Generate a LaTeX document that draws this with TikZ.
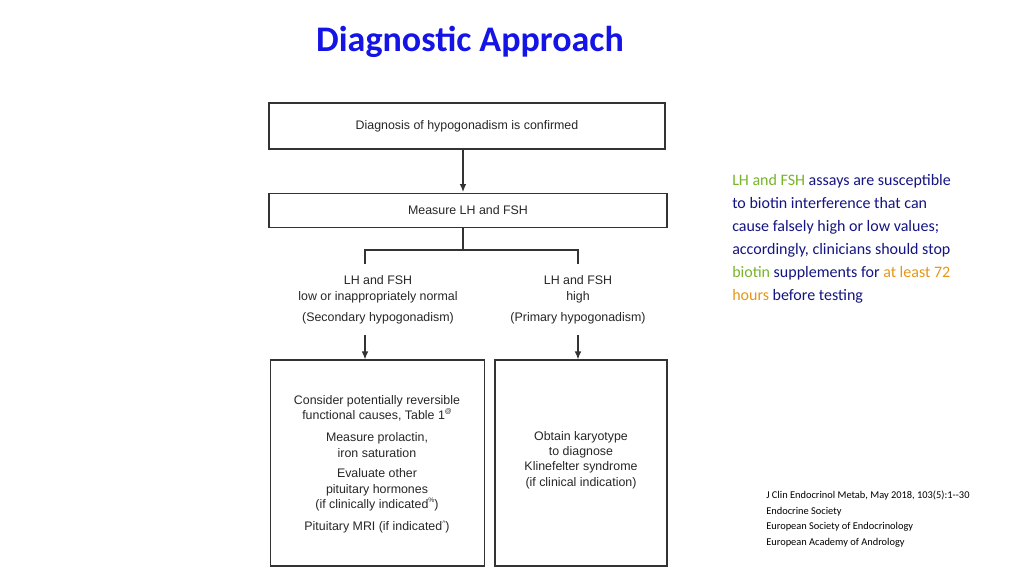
\documentclass[tikz,border=0pt]{standalone}
\usepackage{fontspec}
\usetikzlibrary{arrows.meta}
\setmainfont{Liberation Sans}
\newfontfamily\carl{Carlito}
\definecolor{tblue}{RGB}{20,20,230}
\definecolor{nblue}{RGB}{20,20,130}
\definecolor{ngreen}{RGB}{120,180,40}
\definecolor{norange}{RGB}{230,150,20}
\newcommand{\mysup}[1]{\raisebox{0.9ex}{\fontsize{5}{5}\selectfont #1}}
\begin{document}
\begin{tikzpicture}[x=0.75pt,y=-0.75pt,
  box/.style={draw=black!80,line width=0.9pt,inner sep=0pt},
  lbl/.style={font=\fontsize{9.3}{12}\selectfont,align=center,text=black!85},
  arr/.style={draw=black!80,line width=0.9pt,-{Latex[length=6pt,width=5pt]}},
  ln/.style={draw=black!80,line width=0.9pt}]
\useasboundingbox (0,0) rectangle (1024,576);
\node[font=\carl\bfseries\fontsize{27}{30}\selectfont,text=tblue] (title) at (470,42) {Diagnostic Approach};
\node[box,minimum width=297pt,minimum height=34.5pt] (b1) at (467,126) {};
\node[lbl] at (b1) {Diagnosis of hypogonadism is confirmed};
\node[box,minimum width=298.5pt,minimum height=26pt] (b2) at (468,210.5) {};
\node[lbl] at (b2) {Measure LH and FSH};
\coordinate (j) at (463,250);
\coordinate (jl) at (365,250);
\coordinate (jr) at (578,250);
\coordinate (tl) at (365,264);
\coordinate (tr) at (578,264);
\draw[arr] (463,149) -- (463,192);
\draw[ln] (463,228) -- (j);
\draw[ln] (tl) -- (jl) -- (jr) -- (tr);
\node[lbl] (l1) at (378,289) {LH and FSH\\low or inappropriately normal};
\node[lbl] (l2) at (378,318) {(Secondary hypogonadism)};
\node[lbl] (r1) at (578,289) {LH and FSH\\high};
\node[lbl] (r2) at (578,318) {(Primary hypogonadism)};
\node[box,minimum width=161pt,minimum height=154.5pt] (b3) at (377.5,463) {};
\node[box,minimum width=129pt,minimum height=154.5pt] (b4) at (581,463) {};
\coordinate (al) at (365,335);
\coordinate (ar) at (578,335);
\draw[arr] (al) -- (b3.north -| al);
\draw[arr] (ar) -- (b4.north -| ar);
\node[lbl,font=\fontsize{9.3}{11.5}\selectfont] at (377,408) {Consider potentially reversible\\functional causes, Table 1\mysup{@}};
\node[lbl,font=\fontsize{9.3}{11.5}\selectfont] at (377,445) {Measure prolactin,\\iron saturation};
\node[lbl,font=\fontsize{9.3}{11.5}\selectfont] at (377,490) {Evaluate other\\pituitary hormones\\(if clinically indicated\mysup{\%})};
\node[lbl,font=\fontsize{9.3}{11.5}\selectfont] at (377,527) {Pituitary MRI (if indicated\mysup{\textasciicircum})};
\node[lbl,font=\fontsize{9.3}{11.5}\selectfont] at (581,460) {Obtain karyotype\\to diagnose\\Klinefelter syndrome\\(if clinical indication)};
\node[anchor=north west,align=left,font=\carl\fontsize{12}{17.3}\selectfont,text=nblue,inner sep=0pt] (note) at (732,174) {\textcolor{ngreen}{LH and FSH} assays are susceptible\\to biotin interference that can\\cause falsely high or low values;\\accordingly, clinicians should stop\\\textcolor{ngreen}{biotin} supplements for \textcolor{norange}{at least 72}\\\textcolor{norange}{hours} before testing};
\node[anchor=north west,align=left,font=\carl\fontsize{7.8}{11.6}\selectfont,inner sep=0pt] (ref) at (766,491) {J Clin Endocrinol Metab, May 2018, 103(5):1--30\\Endocrine Society\\European Society of Endocrinology\\European Academy of Andrology};
\end{tikzpicture}
\end{document}
